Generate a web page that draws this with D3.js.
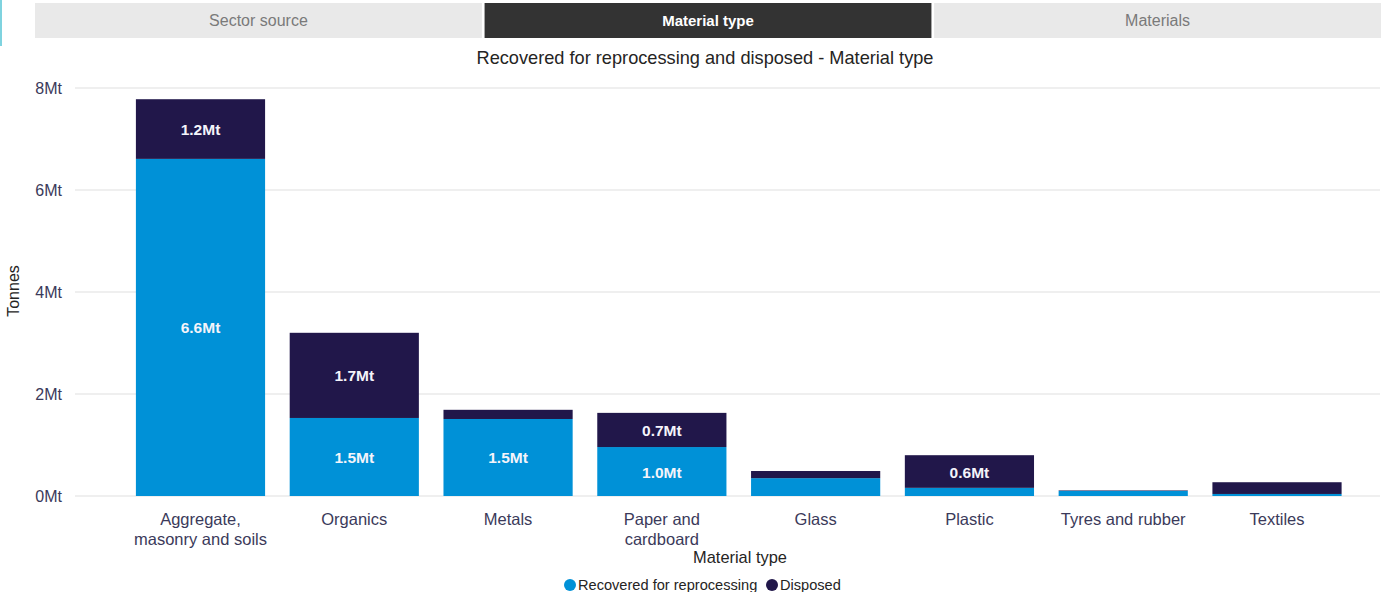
<!DOCTYPE html>
<html>
<head>
<meta charset="utf-8">
<script src="https://cdn.jsdelivr.net/npm/d3@7"></script>
<style>
  body { margin: 0; background: #fff; }
  svg { display: block; font-family: "Liberation Sans", Arial, sans-serif; }
</style>
</head>
<body>
<svg width="1392" height="592"></svg>
<script>
const tabs = ['Sector source', 'Material type', 'Materials'];
const activeTab = 'Material type';
const categories = [
  ['Aggregate,', 'masonry and soils'], ['Organics'], ['Metals'], ['Paper and', 'cardboard'],
  ['Glass'], ['Plastic'], ['Tyres and rubber'], ['Textiles']
];
const recovered = [6.61, 1.53, 1.51, 0.96, 0.35, 0.16, 0.10, 0.04];
const disposed  = [1.17, 1.67, 0.18, 0.67, 0.14, 0.64, 0.01, 0.23];
const yTicks = [0, 2, 4, 6, 8];
const seriesNames = ['Recovered for reprocessing', 'Disposed'];
const colors = ['#0091d7', '#21174a'];

const svg = d3.select('svg');

// teal edge mark on the left
svg.append('rect').attr('x', 0).attr('y', 0).attr('width', 2).attr('height', 46).attr('fill', '#7fd3df');

// tab strip
const tabX = d3.scaleBand().domain(tabs).range([35, 1381]).paddingInner(0.006);
const tab = svg.append('g').selectAll('g').data(tabs).enter().append('g');
tab.append('rect')
   .attr('x', d => tabX(d)).attr('y', 3)
   .attr('width', tabX.bandwidth()).attr('height', 35)
   .attr('fill', d => d === activeTab ? '#333333' : '#e9e9e9');
tab.append('text')
   .attr('x', d => tabX(d) + tabX.bandwidth() / 2).attr('y', 26)
   .attr('text-anchor', 'middle')
   .attr('font-size', d => d === activeTab ? 15 : 16)
   .attr('font-weight', d => d === activeTab ? 'bold' : 'normal')
   .attr('fill', d => d === activeTab ? '#ffffff' : '#7a7a7a')
   .text(d => d);

svg.append('text')
   .attr('x', 705).attr('y', 64)
   .attr('text-anchor', 'middle')
   .attr('font-size', 18.2)
   .attr('fill', '#252423')
   .text('Recovered for reprocessing and disposed - Material type');

const y = d3.scaleLinear().domain([0, 8]).range([496, 88]);
const x = d3.scaleBand().domain(d3.range(categories.length))
  .range([123.6, 1353.9]).paddingInner(0.16).paddingOuter(0.08);

// gridlines + y labels
const yAxis = svg.append('g');
yAxis.selectAll('line').data(yTicks).enter().append('line')
  .attr('x1', 75).attr('x2', 1380)
  .attr('y1', d => y(d)).attr('y2', d => y(d))
  .attr('stroke', '#eaeaea').attr('stroke-width', 1.5);
yAxis.selectAll('text').data(yTicks).enter().append('text')
  .attr('x', 62).attr('y', d => y(d) + 5.5)
  .attr('text-anchor', 'end')
  .attr('font-size', 16)
  .attr('fill', '#3b3a5a')
  .text(d => d + 'Mt');

svg.append('text')
   .attr('transform', 'translate(19,291) rotate(-90)')
   .attr('text-anchor', 'middle')
   .attr('font-size', 16)
   .attr('fill', '#252423')
   .text('Tonnes');

// stacked bars
const rows = categories.map((c, i) => ({ i, recovered: recovered[i], disposed: disposed[i] }));
const stack = d3.stack().keys(['recovered', 'disposed'])(rows);

const layers = svg.append('g').selectAll('g').data(stack).enter().append('g')
  .attr('fill', (d, k) => colors[k]);
layers.selectAll('rect').data(d => d).enter().append('rect')
  .attr('x', d => x(d.data.i))
  .attr('width', x.bandwidth())
  .attr('y', d => y(d[1]))
  .attr('height', d => y(d[0]) - y(d[1]));

layers.selectAll('text').data(d => d.filter(s => y(s[0]) - y(s[1]) > 25)).enter().append('text')
  .attr('x', d => x(d.data.i) + x.bandwidth() / 2)
  .attr('y', d => (y(d[0]) + y(d[1])) / 2 + 6)
  .attr('text-anchor', 'middle')
  .attr('font-size', 15.5)
  .attr('font-weight', 'bold')
  .attr('fill', '#f4f4fa')
  .text(d => (d[1] - d[0]).toFixed(1) + 'Mt');

// x labels
const xl = svg.append('g').selectAll('text').data(categories).enter().append('text')
  .attr('text-anchor', 'middle')
  .attr('font-size', 16.5)
  .attr('fill', '#3b3a5a');
xl.selectAll('tspan').data((d, i) => d.map(line => ({ line, i }))).enter().append('tspan')
  .attr('x', d => x(d.i) + x.bandwidth() / 2)
  .attr('y', (d, j) => 525 + j * 20)
  .text(d => d.line);

svg.append('text')
   .attr('x', 740).attr('y', 563)
   .attr('text-anchor', 'middle')
   .attr('font-size', 16.4)
   .attr('fill', '#252423')
   .text('Material type');

// legend
const legendX = [570, 772];
const lg = svg.append('g').selectAll('g').data(seriesNames).enter().append('g');
lg.append('circle')
  .attr('cx', (d, i) => legendX[i]).attr('cy', 585).attr('r', 6)
  .attr('fill', (d, i) => colors[i]);
lg.append('text')
  .attr('x', (d, i) => legendX[i] + 8).attr('y', 590)
  .attr('font-size', 14.6)
  .attr('fill', '#252423')
  .text(d => d);
</script>
</body>
</html>
